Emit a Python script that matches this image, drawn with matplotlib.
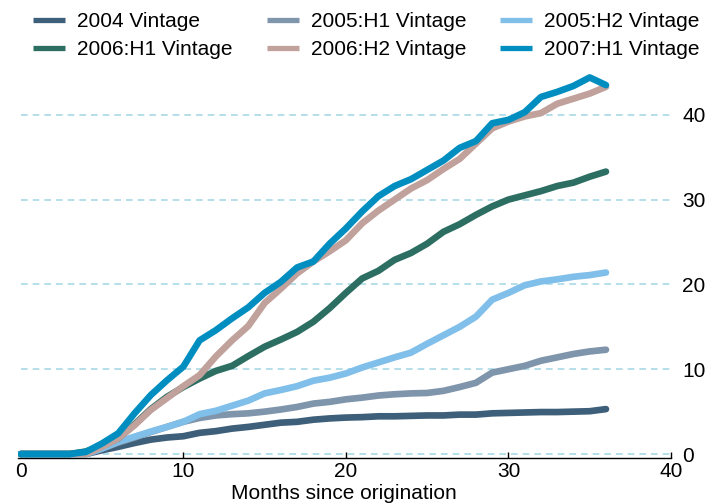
import matplotlib
matplotlib.use("Agg")
import matplotlib.pyplot as plt

plt.rcParams['font.family'] = ['Liberation Sans', 'DejaVu Sans']

# months since origination
months = list(range(0, 37))

# cumulative values per vintage
v2004 = [0, 0, 0, 0, 0, 0.45, 0.85, 1.3, 1.7, 1.95, 2.1, 2.5, 2.7, 3.0, 3.2,
         3.45, 3.7, 3.8, 4.05, 4.2, 4.3, 4.35, 4.45, 4.45, 4.5, 4.55, 4.55, 4.65,
         4.65, 4.8, 4.85, 4.9, 4.95, 4.95, 5.0, 5.05, 5.3]
v2005h1 = [0, 0, 0, 0, 0, 0.65, 1.35, 1.95, 2.6, 3.2, 3.8, 4.25, 4.55, 4.7, 4.8,
           5.0, 5.25, 5.55, 5.95, 6.15, 6.45, 6.65, 6.9, 7.05, 7.15, 7.2, 7.45, 7.9,
           8.4, 9.6, 10.0, 10.4, 11.0, 11.4, 11.8, 12.1, 12.3]
v2005h2 = [0, 0, 0, 0, 0, 0.65, 1.45, 2.05, 2.65, 3.2, 3.8, 4.7, 5.1, 5.7, 6.3,
           7.15, 7.55, 8.0, 8.65, 9.0, 9.5, 10.2, 10.8, 11.4, 11.95, 13.0, 14.0, 15.0,
           16.2, 18.2, 19.0, 19.9, 20.35, 20.6, 20.9, 21.1, 21.4]
v2006h1 = [0, 0, 0, 0, 0.3, 0.95, 1.85, 3.5, 5.3, 6.75, 7.9, 8.9, 9.8, 10.4, 11.55,
           12.65, 13.5, 14.4, 15.6, 17.2, 19.0, 20.7, 21.6, 22.9, 23.7, 24.8, 26.2, 27.1,
           28.2, 29.2, 30.0, 30.5, 31.0, 31.6, 32.0, 32.7, 33.3]
v2006h2 = [0, 0, 0, 0, 0, 0.85, 1.85, 3.4, 5.2, 6.6, 8.0, 9.3, 11.5, 13.4, 15.1,
           17.8, 19.5, 21.3, 22.7, 23.9, 25.2, 27.2, 28.7, 30.0, 31.3, 32.3, 33.6, 34.8,
           36.6, 38.4, 39.2, 39.8, 40.2, 41.3, 41.9, 42.5, 43.3]
v2007h1 = [0, 0, 0, 0, 0.25, 1.25, 2.45, 4.8, 6.95, 8.7, 10.3, 13.4, 14.6, 16.0, 17.3,
           19.0, 20.3, 22.0, 22.7, 24.8, 26.6, 28.6, 30.4, 31.6, 32.4, 33.5, 34.6, 36.1,
           36.9, 39.0, 39.4, 40.3, 42.1, 42.7, 43.4, 44.4, 43.5]

labels = ["2004 Vintage", "2005:H1 Vintage", "2005:H2 Vintage",
          "2006:H1 Vintage", "2006:H2 Vintage", "2007:H1 Vintage"]
colors = ["#3e5f7a", "#7f95ab", "#80bfea", "#2d6e63", "#c0a19b", "#008ec0"]
series = [v2004, v2005h1, v2005h2, v2006h1, v2006h2, v2007h1]

fig = plt.figure(figsize=(7.06, 5.04), dpi=100, facecolor='white')
ax = fig.add_axes([17.5 / 706, 0.0907, (671 - 17.5) / 706, 0.7657])

# grid
for yv in [0, 10, 20, 30, 40]:
    ax.plot([0, 40], [yv, yv], color="#a9d9e6", lw=1.2, ls=(0, (4, 3)), zorder=1)

lines = []
for vals, c, lab in zip(series, colors, labels):
    ln, = ax.plot(months, vals, color=c, lw=4.8, label=lab,
                  solid_capstyle='round', solid_joinstyle='round', zorder=3)
    lines.append(ln)

ax.set_xlim(-0.2, 40)
ax.set_ylim(-0.5, 45)

for s in ['left', 'right', 'top']:
    ax.spines[s].set_visible(False)
ax.spines['bottom'].set_linewidth(1.0)

ax.set_xticks([0, 10, 20, 30, 40])
ax.tick_params(axis='x', direction='in', length=4, width=1, pad=3, labelsize=15)
ax.yaxis.tick_right()
ax.set_yticks([0, 10, 20, 30, 40])
ax.tick_params(axis='y', length=0, pad=8, labelsize=15)
ax.set_xlabel("Months since origination", fontsize=15, labelpad=2)

# legend, row-wise order
order = [0, 3, 1, 4, 2, 5]
leg = fig.legend([lines[i] for i in order], [labels[i] for i in order],
                 ncol=3, loc='upper left', bbox_to_anchor=(33 / 706, 1 - 12 / 504),
                 frameon=False, fontsize=15, handlelength=1.54, handletextpad=0.58,
                 columnspacing=1.63, labelspacing=0.44, borderpad=0, borderaxespad=0)
for lh in leg.get_lines():
    lh.set_linewidth(3.8)
    lh.set_solid_capstyle('butt')

fig.savefig("out.png", dpi=100)
